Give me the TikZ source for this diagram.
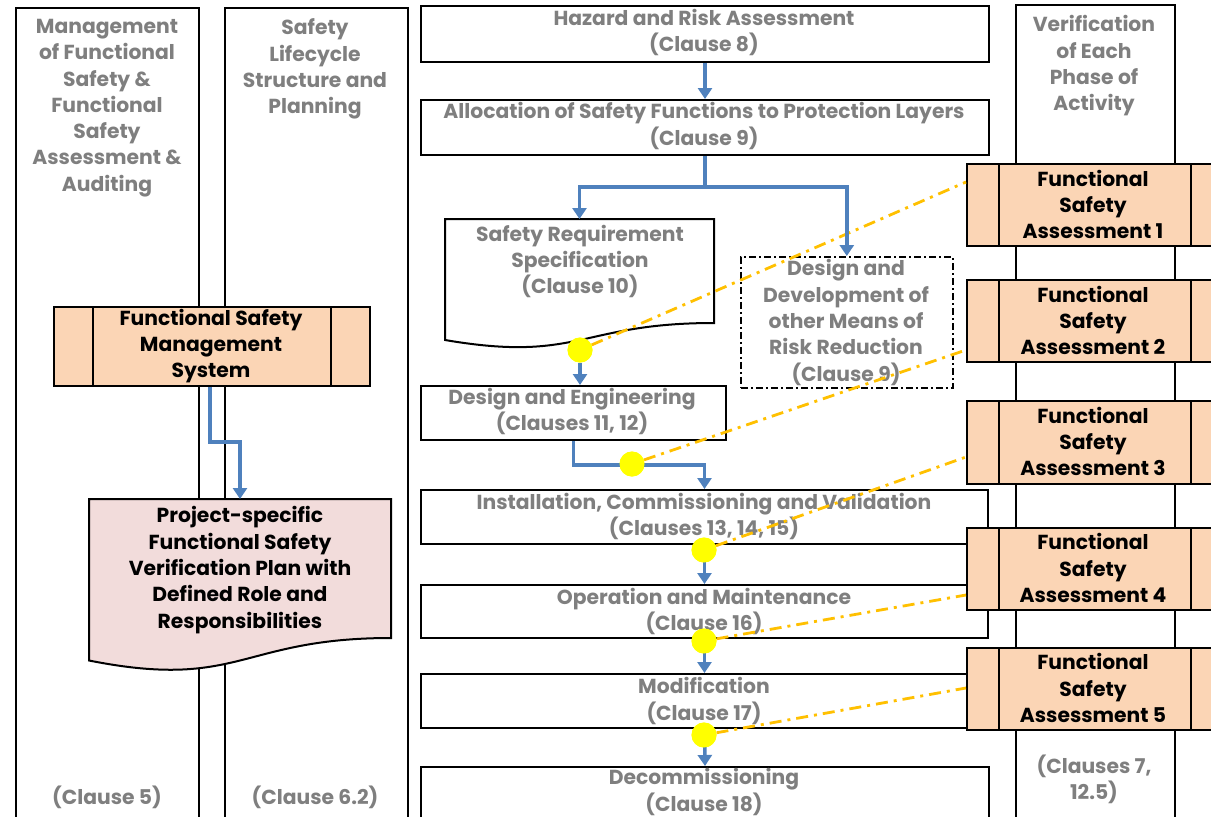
\documentclass[tikz,border=0pt]{standalone}
\usepackage{fontspec}
\setmainfont{Poppins}
\usetikzlibrary{arrows.meta,calc}
\definecolor{txtgray}{HTML}{7F7F7F}
\definecolor{flowblue}{HTML}{4F81BD}
\definecolor{fsafill}{HTML}{FBD5B5}
\definecolor{planfill}{HTML}{F2DCDB}
\definecolor{linkorange}{HTML}{FFC000}
\definecolor{marker}{HTML}{FFFF00}
\begin{document}
\begin{tikzpicture}[x=1pt,y=-1pt,
  lane/.style={draw=black, line width=1.8, fill=white, inner sep=0, anchor=north west},
  stage/.style={draw=black, line width=2, fill=white, inner sep=0, anchor=north west},
  optional/.style={stage, fill=none, line width=1.6, dash pattern=on 7 off 3 on 2 off 3},
  process/.style={stage, fill=fsafill, path picture={
      \draw[line width=2] ([xshift=#1]path picture bounding box.north west) -- ([xshift=#1]path picture bounding box.south west);
      \draw[line width=2] ([xshift=-#1]path picture bounding box.north east) -- ([xshift=-#1]path picture bounding box.south east);}},
  lbl/.style={text=txtgray, font=\bfseries\fontsize{20.3}{26.3}\selectfont, align=center, inner sep=0},
  blk/.style={lbl, text=black},
  flow/.style={draw=flowblue, line width=3.5, -{Triangle[width=14,length=11]}},
  flowline/.style={draw=flowblue, line width=3.5},
  link/.style={draw=linkorange, line width=2.8, dash pattern=on 12 off 6 on 3 off 6},
  dot/.style={circle, fill=marker, minimum size=25, inner sep=0}]
\useasboundingbox (0,0) rectangle (1211,817);
\clip (0,0) rectangle (1211,817);

% swim lanes
\node[lane, minimum width=183, minimum height=840] (lane1) at (15,7) {};
\node[lane, minimum width=183, minimum height=840] (lane2) at (224,7) {};
\node[lane, minimum width=159, minimum height=840] (lane4) at (1015,4) {};

\node[lbl] (h1) at (107,108) {Management\\of Functional\\Safety \&\\Functional\\Safety\\Assessment \&\\Auditing};
\node[lbl] (h2) at (315,69) {Safety\\Lifecycle\\Structure and\\Planning};
\node[lbl] (h4) at (1094,66) {Verification\\of Each\\Phase of\\Activity};
\node[lbl] (c1) at (107,797) {(Clause 5)};
\node[lbl] (c2) at (315,797) {(Clause 6.2)};
\node[lbl] (c4) at (1094,779.5) {(Clauses 7,\\12.5)};

% lifecycle stages
\node[stage, minimum width=568, minimum height=56] (haz) at (420,5) {};
\node[stage, minimum width=568, minimum height=55] (alloc) at (420,99) {};
\node[optional, minimum width=212, minimum height=131] (ddm) at (740,256) {};
\node[stage, minimum width=305, minimum height=54] (de) at (420,385) {};
\node[stage, minimum width=567, minimum height=54] (inst) at (420,489) {};
\node[stage, minimum width=567, minimum height=53] (op) at (420,584) {};
\node[stage, minimum width=567, minimum height=54] (mod) at (420,673) {};
\node[stage, minimum width=568, minimum height=70] (dec) at (420,766) {};

% document shapes
\draw[line width=2, fill=white] (445,219) coordinate (srs) -- (714,219) -- (714,323)
  .. controls (579.5,323) and (579.5,363) .. (445,340) -- cycle;
\coordinate (srstop) at (579.5,219);
\draw[line width=2, fill=planfill] (89,499) -- (391,499) -- (391,638)
  .. controls (240,638) and (240,690.5) .. (89,660.5) -- cycle;
\coordinate (plantop) at (240,499);

% management system
\node[process=39, minimum width=316, minimum height=79] (fsms) at (53,306) {};

% assessments
\node[process=32, minimum width=256, minimum height=82] (fsa1) at (966,163) {};
\node[process=32, minimum width=256, minimum height=82] (fsa2) at (966,279) {};
\node[process=32, minimum width=256, minimum height=83] (fsa3) at (966,400) {};
\node[process=32, minimum width=256, minimum height=82] (fsa4) at (966,527) {};
\node[process=32, minimum width=256, minimum height=82] (fsa5) at (966,647) {};

% texts
\node[lbl] (thaz) at (704,32.5) {Hazard and Risk Assessment\\(Clause 8)};
\node[lbl] (talloc) at (704,126) {Allocation of Safety Functions to Protection Layers\\(Clause 9)};
\node[lbl] (tsrs) at (580,261.5) {Safety Requirement\\Specification\\(Clause 10)};
\node[lbl] (tddm) at (846,322.5) {Design and\\Development of\\other Means of\\Risk Reduction\\(Clause 9)};
\node[lbl] (tde) at (572,411.5) {Design and Engineering\\(Clauses 11, 12)};
\node[lbl] (tinst) at (704,516.5) {Installation, Commissioning and Validation\\(Clauses 13, 14, 15)};
\node[lbl] (top) at (704,611.5) {Operation and Maintenance\\(Clause 16)};
\node[lbl] (tmod) at (704,701) {Modification\\(Clause 17)};
\node[lbl] (tdec) at (704,792) {Decommissioning\\(Clause 18)};
\node[blk] (tfsms) at (211,346) {Functional Safety\\Management\\System};
\node[blk] (tplan) at (240,570) {Project-specific\\Functional Safety\\Verification Plan with\\Defined Role and\\Responsibilities};
\node[blk] (tfsa1) at (1093,204.5) {Functional\\Safety\\Assessment 1};
\node[blk] (tfsa2) at (1093,320.5) {Functional\\Safety\\Assessment 2};
\node[blk] (tfsa3) at (1093,441.5) {Functional\\Safety\\Assessment 3};
\node[blk] (tfsa4) at (1093,568) {Functional\\Safety\\Assessment 4};
\node[blk] (tfsa5) at (1093,688) {Functional\\Safety\\Assessment 5};

% verification markers
\node[dot] (d1) at (580,350) {};
\node[dot] (d2) at (632,464) {};
\node[dot] (d3) at (704,550) {};
\node[dot] (d4) at (704,641) {};
\node[dot] (d5) at (704,735) {};

% links to the assessments
\draw[link] (d1) -- ($(fsa1.north west)+(0,19)$);
\draw[link] (d2) -- ($(fsa2.north west)+(0,71)$);
\draw[link] (d3) -- ($(fsa3.north west)+(0,57)$);
\draw[link] (d4) -- ($(fsa4.north west)+(0,68)$);
\draw[link] (d5) -- ($(fsa5.north west)+(0,41)$);

% lifecycle flow
\draw[flow] (haz.south) -- (alloc.north);
\draw[flowline] (alloc.south) -- ++(0,31) coordinate (split);
\draw[flow] (split) -| (srstop);
\draw[flow] (split) -| (ddm.north);
\draw[flow] (d1) -- (d1 |- de.north);
\draw[flow] (de.south) -- ++(0,24) -| (inst.north);
\draw[flow] (inst.south) -- (op.north);
\draw[flow] (op.south) -- (mod.north);
\draw[flow] (mod.south) -- (dec.north);
\draw[flow] (fsms.south -| 210,0) -- (210,442) -| (plantop);

% markers on top
\foreach \d in {d1,d2,d3,d4,d5} \fill[marker] (\d) circle (12.5);
\end{tikzpicture}
\end{document}
